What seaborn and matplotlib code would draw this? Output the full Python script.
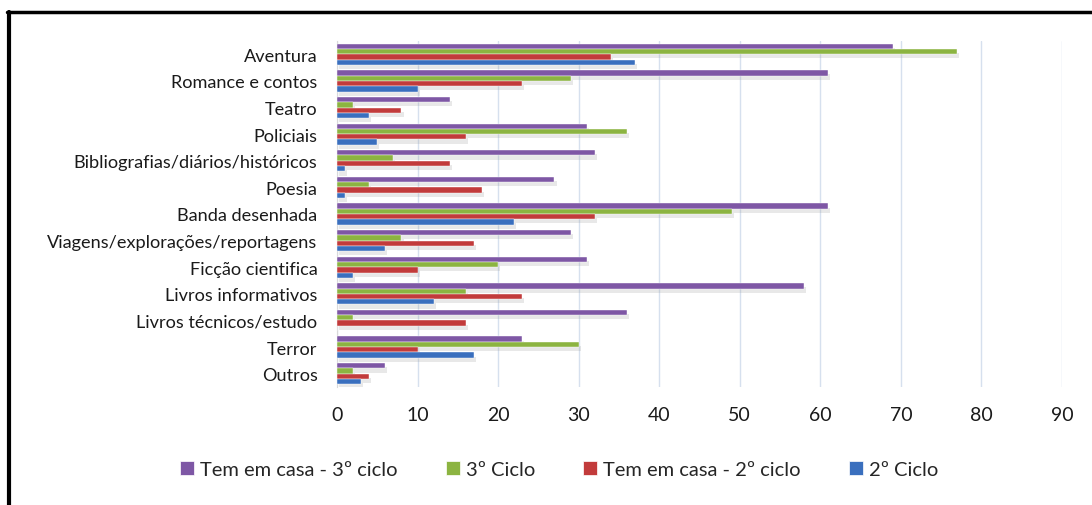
import pandas as pd
import seaborn as sns
import matplotlib.pyplot as plt
import matplotlib.patheffects as pe
from matplotlib.lines import Line2D
from matplotlib.patches import Patch

# Dados
categorias = ["Aventura", "Romance e contos", "Teatro", "Policiais",
              "Bibliografias/diários/históricos", "Poesia", "Banda desenhada",
              "Viagens/explorações/reportagens", "Ficção cientifica",
              "Livros informativos", "Livros técnicos/estudo", "Terror", "Outros"]
casa_3ciclo = [69, 61, 14, 31, 32, 27, 61, 29, 31, 58, 36, 23, 6]
ciclo3 = [77, 29, 2, 36, 7, 4, 49, 8, 20, 16, 2, 30, 2]
casa_2ciclo = [34, 23, 8, 16, 14, 18, 32, 17, 10, 23, 16, 10, 4]
ciclo2 = [37, 10, 4, 5, 1, 1, 22, 6, 2, 12, 0, 17, 3]

series = ["Tem em casa - 3º ciclo", "3º Ciclo", "Tem em casa - 2º ciclo", "2º Ciclo"]
cores = ["#7E57A5", "#8CB441", "#C23B3B", "#3A6FBE"]

df = pd.DataFrame({"Categoria": categorias,
                   series[0]: casa_3ciclo,
                   series[1]: ciclo3,
                   series[2]: casa_2ciclo,
                   series[3]: ciclo2})
dados = df.melt(id_vars="Categoria", var_name="Serie", value_name="Valor")

sns.set_style("white")
plt.rcParams['font.family'] = ['Lato', 'DejaVu Sans']

fig = plt.figure(figsize=(10.92, 5.06), dpi=100)
ax = fig.add_axes([0.3086, 0.2332, 0.6639, 0.6838])

sns.barplot(data=dados, y="Categoria", x="Valor", hue="Serie",
            order=categorias, hue_order=series, palette=cores,
            orient="h", width=0.8, saturation=1, ax=ax, zorder=3,
            legend=False)

# sombra suave das barras
for p in ax.patches:
    p.set_edgecolor("white")
    p.set_linewidth(0.3)
    p.set_path_effects([pe.SimplePatchShadow(offset=(1.5, -3), shadow_rgbFace="#999999", alpha=0.22),
                        pe.Normal()])

ax.set_xlim(0, 90)
ax.set_xticks(range(0, 91, 10))
ax.set_xlabel("")
ax.set_ylabel("")
ax.grid(axis="x", color="#D6E0EE", linewidth=1, zorder=0)
ax.set_axisbelow(True)
for s in ["top", "right", "bottom"]:
    ax.spines[s].set_visible(False)
ax.spines["left"].set_color("#D9D9D9")
ax.tick_params(axis="y", length=0, pad=14, labelsize=13.1, colors="#1a1a1a")
ax.tick_params(axis="x", length=0, pad=14, labelsize=14, colors="#1a1a1a")

handles = [Patch(facecolor=c, edgecolor="white", linewidth=0.5) for c in cores]
fig.legend(handles, series, loc="center", bbox_to_anchor=(0.512, 0.07), ncol=4,
           frameon=False, fontsize=14.5, handlelength=0.7, handleheight=0.7,
           handletextpad=0.3, columnspacing=2.4)

# moldura
fig.add_artist(Line2D([0.0083, 0.0083], [0, 0.975], color="black", linewidth=3,
                      transform=fig.transFigure))
fig.add_artist(Line2D([0.0068, 1.0], [0.974, 0.974], color="black", linewidth=2.5,
                      transform=fig.transFigure))

fig.savefig("out.png", dpi=100)
